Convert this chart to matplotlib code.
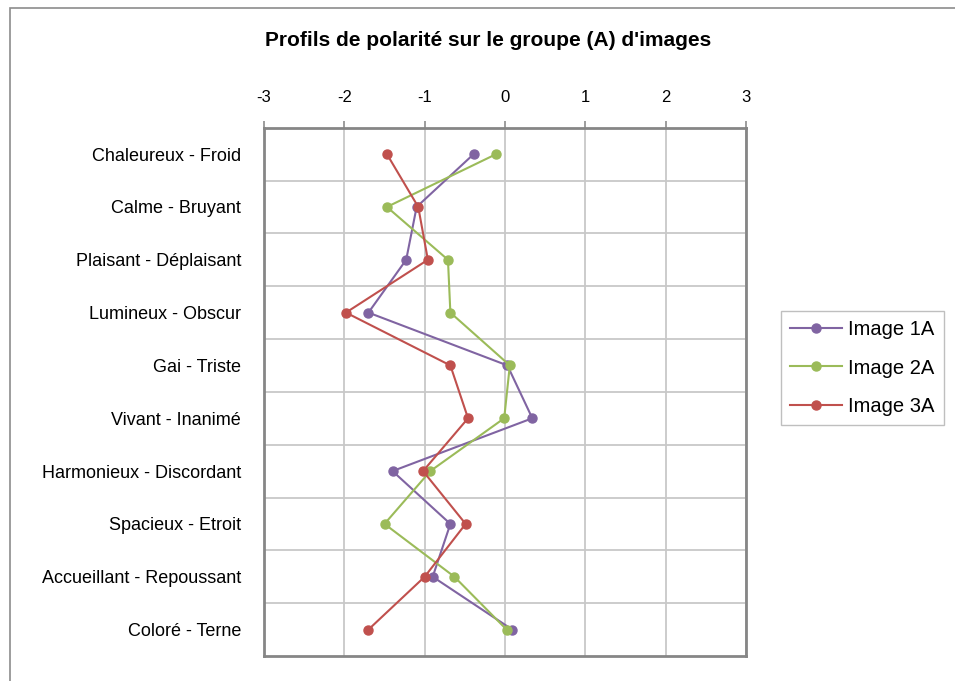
import numpy as np
import matplotlib.pyplot as plt
from matplotlib.patches import Rectangle

plt.rcParams['font.family'] = ['Liberation Sans', 'DejaVu Sans']

categories = [
    "Chaleureux - Froid",
    "Calme - Bruyant",
    "Plaisant - Déplaisant",
    "Lumineux - Obscur",
    "Gai - Triste",
    "Vivant - Inanimé",
    "Harmonieux - Discordant",
    "Spacieux - Etroit",
    "Accueillant - Repoussant",
    "Coloré - Terne",
]

image_1a = [-0.39, -1.10, -1.23, -1.70, 0.03, 0.34, -1.40, -0.68, -0.90, 0.09]
image_2a = [-0.11, -1.47, -0.71, -0.68, 0.06, -0.01, -0.93, -1.50, -0.63, 0.02]
image_3a = [-1.47, -1.08, -0.96, -1.98, -0.68, -0.46, -1.02, -0.49, -1.00, -1.70]

series = {
    "Image 1A": (image_1a, "#8064A2"),
    "Image 2A": (image_2a, "#9BBB59"),
    "Image 3A": (image_3a, "#C0504D"),
}

fig = plt.figure(figsize=(9.55, 6.81), dpi=100)
ax = fig.add_axes([264 / 955, 1 - 656 / 681, (746 - 264) / 955, (656 - 127.7) / 681])

# cadre extérieur du graphique
fig.patches.append(Rectangle((10 / 955, -0.1), 1.0, 1.1 - 8 / 681, transform=fig.transFigure,
                             fill=False, edgecolor="#8c8c8c", linewidth=1.2))

ypos = np.arange(len(categories))
for name, (vals, color) in series.items():
    ax.plot(vals, ypos, marker="o", markersize=6.5, linewidth=1.5,
            color=color, label=name)

ax.set_xlim(-3, 3)
ax.set_ylim(len(categories) - 0.5, -0.5)

ax.xaxis.set_ticks_position("top")
ax.set_xticks(np.arange(-3, 4, 1))
ax.set_xticklabels([str(v) for v in range(-3, 4)], fontsize=12)
ax.tick_params(axis="x", direction="out", length=5, width=1.2, color="#8c8c8c", pad=11)

ax.set_yticks(ypos)
ax.set_yticklabels(categories, fontsize=13)
ax.tick_params(axis="y", length=0, pad=16.5)
ax.set_yticks(np.arange(0.5, len(categories) - 0.5, 1), minor=True)
ax.tick_params(axis="y", which="minor", length=0)

ax.grid(True, axis="x", color="#c8c8c8", linewidth=1.3)
ax.grid(True, axis="y", which="minor", color="#c8c8c8", linewidth=1.3)
ax.set_axisbelow(True)

for sp in ax.spines.values():
    sp.set_color("#868686")
    sp.set_linewidth(2)

fig.text(488 / 955, 1 - 40 / 681, "Profils de polarité sur le groupe (A) d'images",
         ha="center", va="center", fontsize=15, fontweight="bold")

leg = fig.legend(loc="center left", bbox_to_anchor=(781 / 955, 1 - 368 / 681),
                 fontsize=14.5, frameon=True, fancybox=False, handlelength=2.6,
                 borderpad=0.45, labelspacing=0.95, handletextpad=0.3,
                 borderaxespad=0)
leg.get_frame().set_edgecolor("#b0b0b0")
leg.get_frame().set_linewidth(1.0)

fig.savefig("out.png", dpi=100)
